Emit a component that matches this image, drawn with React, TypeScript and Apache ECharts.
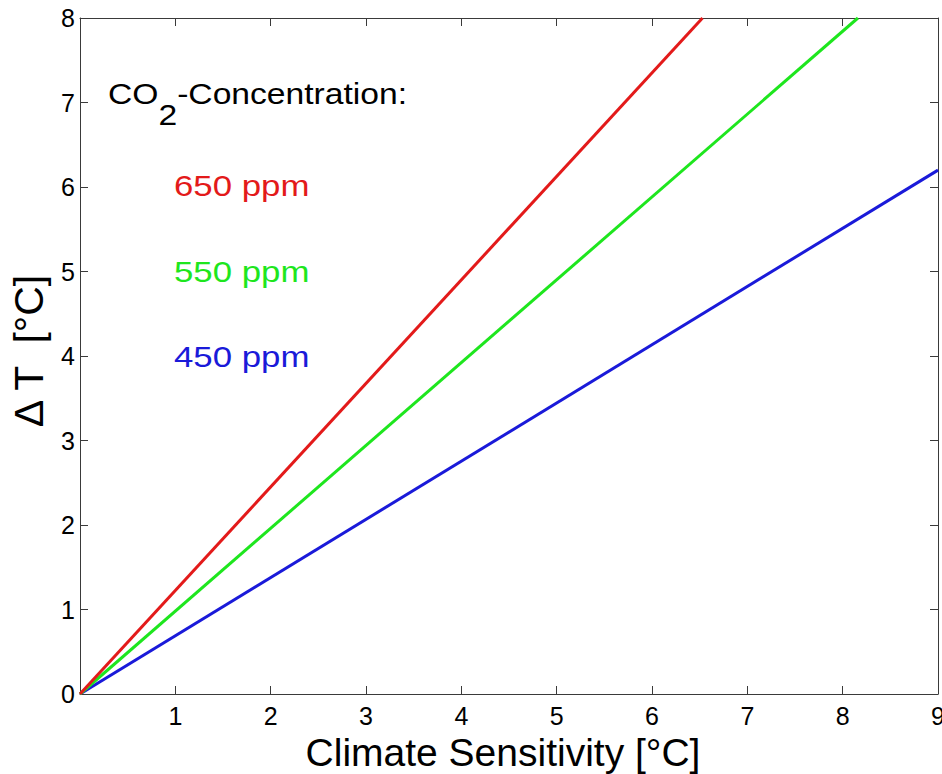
import React, { useEffect, useRef } from "react";
import * as echarts from "echarts";

const xTicks = [0, 1, 2, 3, 4, 5, 6, 7, 8, 9];
const yTicks = [0, 1, 2, 3, 4, 5, 6, 7, 8];
const seriesNames = ["650 ppm", "550 ppm", "450 ppm"];
const seriesColors = ["#e31a1a", "#1ee61e", "#1a1ad9"];
const red650: [number, number][] = [[0, 0], [6.53, 8]];
const green550: [number, number][] = [[0, 0], [8.16, 8]];
const blue450: [number, number][] = [[0, 0], [9, 6.2]];
const seriesData = [red650, green550, blue450];

const FONT = "Liberation Sans, Arial, Helvetica, sans-serif";

export default function App() {
  const ref = useRef<HTMLDivElement>(null);
  useEffect(() => {
    if (!ref.current) return;
    const chart = echarts.init(ref.current, undefined, { renderer: "svg" });
    const axisLineStyle = { color: "#3a3a3a", width: 1 };
    const common = {
      type: "value" as const,
      axisLine: { show: true, onZero: false, lineStyle: axisLineStyle },
      axisTick: { show: true, inside: true, length: 8, lineStyle: axisLineStyle },
      splitLine: { show: false },
    };
    const txtScale = 1.16;
    const txtSize = 29;
    const labelYs = [186, 272, 357];
    const option: any = {
      animation: false,
      backgroundColor: "#ffffff",
      grid: { left: 80, right: 4, top: 18, bottom: 80, containLabel: false, outerBoundsMode: "none" },
      xAxis: [
        {
          ...common,
          min: xTicks[0],
          max: xTicks[xTicks.length - 1],
          interval: 1,
          position: "bottom",
          axisLabel: {
            fontSize: 25,
            color: "#000",
            fontFamily: FONT,
            margin: 9,
            formatter: (v: number) => (v === 0 ? "" : String(v)),
          },
        },
        {
          ...common,
          min: xTicks[0],
          max: xTicks[xTicks.length - 1],
          interval: 1,
          position: "top",
          axisLabel: { show: false },
        },
      ],
      yAxis: [
        {
          ...common,
          min: yTicks[0],
          max: yTicks[yTicks.length - 1],
          interval: 1,
          position: "left",
          axisLabel: { fontSize: 25, color: "#000", fontFamily: FONT, margin: 5 },
        },
        {
          ...common,
          min: yTicks[0],
          max: yTicks[yTicks.length - 1],
          interval: 1,
          position: "right",
          axisLabel: { show: false },
        },
      ],
      series: seriesData.map((d, i) => ({
        name: seriesNames[i],
        type: "line",
        xAxisIndex: 0,
        yAxisIndex: 0,
        data: d,
        showSymbol: false,
        symbol: "none",
        lineStyle: { color: seriesColors[i], width: 3 },
        z: 3 - i,
      })),
      graphic: [
        {
          type: "text",
          x: 108,
          y: 94,
          scaleX: txtScale,
          style: { text: "CO", fontSize: txtSize, fontFamily: FONT, fill: "#000", textAlign: "left", textVerticalAlign: "middle" },
        },
        {
          type: "text",
          x: 108 + 1.5 * txtSize * txtScale,
          y: 115,
          scaleX: txtScale,
          style: { text: "2", fontSize: txtSize, fontFamily: FONT, fill: "#000", textAlign: "left", textVerticalAlign: "middle" },
        },
        {
          type: "text",
          x: 108 + (1.5 + 0.556) * txtSize * txtScale,
          y: 94,
          scaleX: txtScale,
          style: { text: "-Concentration:", fontSize: txtSize, fontFamily: FONT, fill: "#000", textAlign: "left", textVerticalAlign: "middle" },
        },
        ...seriesNames.map((n, i) => ({
          type: "text",
          x: 174,
          y: labelYs[i],
          scaleX: 1.2,
          style: { text: n, fontSize: txtSize, fontFamily: FONT, fill: seriesColors[i], textAlign: "left", textVerticalAlign: "middle" },
        })),
        {
          type: "text",
          x: 503,
          y: 752,
          style: { text: "Climate Sensitivity [°C]", fontSize: 39, fontFamily: FONT, fill: "#000", textAlign: "center", textVerticalAlign: "middle" },
        },
        {
          type: "text",
          x: 29,
          y: 351,
          rotation: Math.PI / 2,
          style: { text: "Δ T  [°C]", fontSize: 41, fontFamily: FONT, fill: "#000", textAlign: "center", textVerticalAlign: "middle" },
        },
      ],
    };
    chart.setOption(option);
    return () => chart.dispose();
  }, []);
  return (
    <div
      ref={ref}
      style={{ position: "fixed", left: 0, top: 0, width: 942, height: 774, background: "#fff" }}
    />
  );
}
